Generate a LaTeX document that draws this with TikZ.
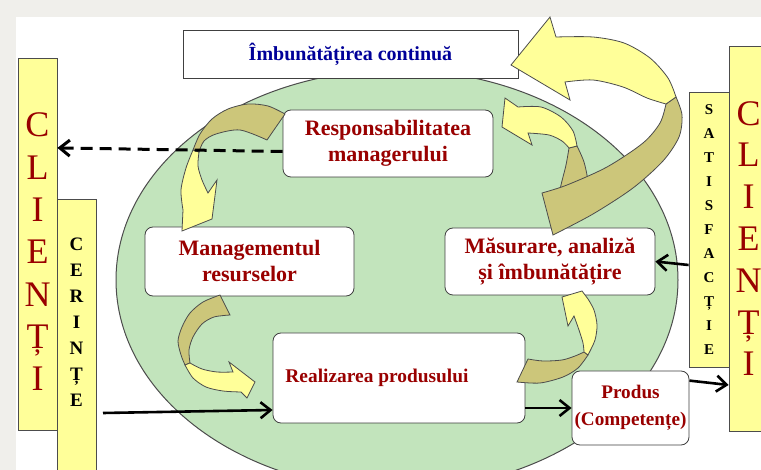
\documentclass[tikz,border=0pt]{standalone}
\usepackage{fontspec}
\setmainfont{Liberation Serif}
\usetikzlibrary{arrows.meta,calc}
\definecolor{darkred}{RGB}{153,0,0}
\definecolor{darkblue}{RGB}{0,0,153}
\definecolor{lightgreen}{RGB}{194,228,188}
\definecolor{paleyellow}{RGB}{255,255,153}
\definecolor{bandolive}{RGB}{204,198,122}
\definecolor{pagegray}{RGB}{240,239,235}
\begin{document}
\begin{tikzpicture}[x=0.5pt, y=-0.5pt, >={Straight Barb[length=5pt,width=8pt]},
 box/.style={draw=black!75, fill=white, rounded corners=4pt, align=center, inner sep=0pt, text=darkred, font=\bfseries\fontsize{11}{13}\selectfont},
 column/.style={draw=black!70, fill=paleyellow, inner sep=0pt, align=center, minimum width=19.5pt},
 back/.style={fill=bandolive, draw=black!70, line width=0.4pt},
 front/.style={fill=paleyellow, draw=black!70, line width=0.4pt},
 conn/.style={->, line width=1.3pt}]
\useasboundingbox (0,0) rectangle (761,470);
\fill[pagegray] (0,0) rectangle (761,470);
\fill[white] (16,17) rectangle (761,470);
\filldraw[fill=lightgreen, draw=black!70, line width=0.5pt] (397,280) ellipse [x radius=140.5pt, y radius=105pt];

\node[box, rounded corners=0pt, minimum width=167.5pt, minimum height=24pt, text=darkblue, font=\bfseries\fontsize{10}{12}\selectfont] (improve) at (350.5,54) {Îmbunătățirea continuă};
\node[box, minimum width=105pt, minimum height=33.5pt] (resp) at (388,143.5) {Responsabilitatea\\managerului};
\node[box, minimum width=104.5pt, minimum height=34.5pt] (resurse) at (249.5,261.5) {Managementul\\resurselor};
\node[box, minimum width=105pt, minimum height=33.5pt] (masurare) at (550,261.5) {Măsurare, analiză\\și îmbunătățire};
\node[box, minimum width=126pt, minimum height=45pt, font=\bfseries\fontsize{9.7}{12}\selectfont] (realizare) at (399,378) {Realizarea produsului\hspace*{22pt}};
\node[box, minimum width=58.5pt, minimum height=37pt, font=\bfseries\fontsize{9.6}{13.5}\selectfont] (produs) at (630.5,408) {Produs\\(Competențe)};

\node[column, minimum height=186pt, text=darkred, font=\fontsize{18}{21.2}\selectfont] (clientl) at (37.5,244) {\mbox{}\\[-1.4pt]C\\L\\I\\E\\N\\Ț\\I};
\node[column, minimum height=138.5pt, font=\bfseries\fontsize{9.5}{13}\selectfont] (cerinte) at (76.5,337.5) {C\\E\\R\\I\\N\\Ț\\E\\[2.5pt]\mbox{}};
\node[column, minimum width=20pt, minimum height=137.5pt, font=\bfseries\fontsize{7.5}{12}\selectfont] (satisf) at (709,229.5) {S\\A\\T\\I\\S\\F\\A\\C\\Ț\\I\\E};
\node[column, minimum height=192.5pt, text=darkred, font=\fontsize{18}{20.9}\selectfont] (clientr) at (748.5,238.5) {C\\L\\I\\E\\N\\Ț\\I};

\filldraw[back] plot[smooth] coordinates {(285,114) (268,106) (248,104) (228,109) (212,119) (200,134) (193,150)} -- plot[smooth] coordinates {(199,152) (204,141) (216,134) (240,130) (267,140)} -- cycle;
\filldraw[front] plot[smooth] coordinates {(193,150) (186,168) (181,190) (183,210)} -- (182,231) -- (212,219) -- (217,180) -- plot[smooth] coordinates {(208,193) (202,180) (198,166) (199,152)} -- cycle;

\filldraw[back] plot[smooth] coordinates {(220,295) (203,302) (190,313) (182,327) (178,341) (181,355) (185,365)} -- plot[smooth] coordinates {(190,363) (189,350) (193,337) (202,324) (214,317) (230,315)} -- cycle;
\filldraw[front] plot[smooth] coordinates {(185,365) (193,378) (206,387) (223,391) (241,392)} -- (247,398) -- (255,382) -- (229,362) -- plot[smooth] coordinates {(233,372) (217,372) (202,369) (190,363)} -- cycle;

\filldraw[back] plot[smooth] coordinates {(517,382) (540,383) (563,377) (578,368) (588,355)} -- plot[smooth] coordinates {(584,352) (575,356) (562,360) (543,361) (528,359)} -- cycle;
\filldraw[front] plot[smooth] coordinates {(588,355) (595,340) (597,325) (594,310) (588,299)} -- (582,291) -- (562,297) -- (568,326) -- plot[smooth] coordinates {(574,316) (579,330) (583,343) (584,352)} -- cycle;

\filldraw[back] plot[smooth] coordinates {(577,146) (584,162) (588,182) (588,205)} -- plot[smooth] coordinates {(557,205) (561,185) (566,165) (569,148)} -- cycle;
\filldraw[front] plot[smooth] coordinates {(577,146) (573,131) (561,117) (541,107) (518,107)} -- (505,98) -- (502,127) -- (532,145) -- plot[smooth] coordinates {(528,133) (549,135) (562,141) (569,148)} -- cycle;

\filldraw[back] plot[smooth] coordinates {(553,235) (593,214) (633,188) (663,161) (679,137) (682,115) (676,97)} -- plot[smooth] coordinates {(666,104) (660,123) (643,143) (607,167) (567,185) (542,193)} -- cycle;
\filldraw[front] plot[smooth] coordinates {(676,97) (668,78) (650,58) (624,43) (593,37) (556,37)} -- (550,17) -- (511,65) -- (570,100) -- plot[smooth] coordinates {(565,82) (593,80) (623,87) (647,98) (666,104)} -- cycle;

\coordinate (cerin) at (103,413);
\draw[conn, dash pattern=on 6pt off 3.5pt, line width=1.5pt] ([yshift=-4pt]resp.west) -- ([yshift=-2.2pt]resp.west -| clientl.east);
\draw[conn] (cerin) -- ($(realizare.west)+(0,32)$);
\draw[conn] (produs.west -| realizare.east) -- (produs.west);
\draw[conn] ($(produs.north east)+(0,10)$) -- (clientr.west |- 0,385);
\draw[conn] (satisf.west |- 0,265) -- (masurare.east);
\end{tikzpicture}
\end{document}
